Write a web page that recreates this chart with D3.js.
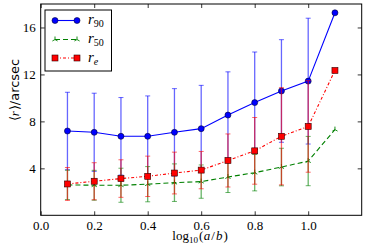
<!DOCTYPE html>
<html>
<head>
  <meta charset="utf-8" />
  <title>radius vs axis ratio</title>
  <script src="https://d3js.org/d3.v7.min.js"></script>
  <style>
    body { margin: 0; background: #fff; }
    .tick text { font-family: 'Liberation Serif', serif; font-size: 13px; fill: #000; }
    .tick line { stroke: #000; stroke-width: 0.8; }
  </style>
</head>
<body>
  <svg id="chart" width="366" height="248"></svg>
  <script>
    // data
    var xVals = [0.1, 0.2, 0.3, 0.4, 0.5, 0.6, 0.7, 0.8, 0.9, 1.0, 1.1];
    var r90 = [7.18, 7.07, 6.73, 6.73, 7.07, 7.38, 8.54, 9.6, 10.59, 11.43, 17.25];
    var r90Err = [3.3, 3.33, 3.3, 3.44, 3.72, 3.69, 3.68, 4.31, 4.37, 5.36, 0];
    var r50 = [2.59, 2.56, 2.56, 2.65, 2.78, 2.87, 3.26, 3.63, 4.11, 4.62, 7.3];
    var r50Err = [1.25, 1.27, 1.45, 1.5, 1.6, 1.42, 1.32, 1.55, 1.6, 2.1, 0];
    var rE = [2.67, 2.9, 3.13, 3.32, 3.6, 3.85, 4.67, 5.49, 6.73, 7.57, 12.34];
    var rEErr = [1.4, 1.58, 1.6, 1.72, 1.78, 1.59, 2.26, 2.84, 4.14, 3.9, 0];
    var xTicks = [0.0, 0.2, 0.4, 0.6, 0.8, 1.0];
    var yTicks = [4, 8, 12, 16];

    var plotLeft = 40.7, plotRight = 361.7, plotTop = 4, plotBottom = 215.3;
    var svg = d3.select("#chart");

    var x = d3.scaleLinear().domain([0, 1.2]).range([plotLeft, plotRight]);
    var y = d3.scaleLinear().domain([0, 18]).range([plotBottom, plotTop]);

    // axes, ticks pointing inwards on all four sides
    svg.append("g").attr("transform", "translate(0," + plotBottom + ")")
      .call(d3.axisBottom(x).tickValues(xTicks).tickSize(-4).tickPadding(5).tickFormat(d3.format(".1f")))
      .call(function(g) { g.select(".domain").remove(); });
    svg.append("g").attr("transform", "translate(0," + plotTop + ")")
      .call(d3.axisTop(x).tickValues(xTicks).tickSize(-4).tickFormat(""))
      .call(function(g) { g.select(".domain").remove(); });
    svg.append("g").attr("transform", "translate(" + plotLeft + ",0)")
      .call(d3.axisLeft(y).tickValues(yTicks).tickSize(-4).tickPadding(5))
      .call(function(g) { g.select(".domain").remove(); });
    svg.append("g").attr("transform", "translate(" + plotRight + ",0)")
      .call(d3.axisRight(y).tickValues(yTicks).tickSize(-4).tickFormat(""))
      .call(function(g) { g.select(".domain").remove(); });

    var series = [
      { vals: r90, err: r90Err, color: "#0000ff", dash: null, marker: "circle" },
      { vals: r50, err: r50Err, color: "#008000", dash: "5,3", marker: "tri" },
      { vals: rE, err: rEErr, color: "#ff0000", dash: "3,2,1,2", marker: "square" }
    ];

    function drawMarker(g, kind, cx, cy, color) {
      if (kind == "circle") {
        g.append("circle").attr("cx", cx).attr("cy", cy).attr("r", 3)
          .attr("fill", color).attr("stroke", "#000033").attr("stroke-width", 0.6);
      } else if (kind == "square") {
        g.append("rect").attr("x", cx - 3).attr("y", cy - 3).attr("width", 6).attr("height", 6)
          .attr("fill", color).attr("stroke", "#330000").attr("stroke-width", 0.6);
      } else {
        g.append("path")
          .attr("d", "M" + cx + "," + cy + "v-3M" + cx + "," + cy + "l-2.6,1.5M" + cx + "," + cy + "l2.6,1.5")
          .attr("stroke", color).attr("stroke-width", 0.9).attr("fill", "none");
      }
    }

    var line = d3.line().x(function(d) { return x(d[0]); }).y(function(d) { return y(d[1]); });

    series.forEach(function(s) {
      var g = svg.append("g");
      // error bars
      xVals.forEach(function(xv, i) {
        if (!s.err[i]) return;
        var lo = y(s.vals[i] - s.err[i]), hi = y(s.vals[i] + s.err[i]);
        g.append("line").attr("x1", x(xv)).attr("x2", x(xv)).attr("y1", lo).attr("y2", hi)
          .attr("stroke", s.color).attr("stroke-opacity", 0.6).attr("stroke-width", 1.3);
        [lo, hi].forEach(function(yy) {
          g.append("line").attr("x1", x(xv) - 2.5).attr("x2", x(xv) + 2.5).attr("y1", yy).attr("y2", yy)
            .attr("stroke", s.color).attr("stroke-opacity", 0.6).attr("stroke-width", 1);
        });
      });
      g.append("path").datum(xVals.map(function(xv, i) { return [xv, s.vals[i]]; }))
        .attr("d", line).attr("fill", "none").attr("stroke", s.color).attr("stroke-width", 1.1)
        .attr("stroke-dasharray", s.dash);
      xVals.forEach(function(xv, i) { drawMarker(g, s.marker, x(xv), y(s.vals[i]), s.color); });
    });

    // frame
    svg.append("rect").attr("x", plotLeft).attr("y", plotTop)
      .attr("width", plotRight - plotLeft).attr("height", plotBottom - plotTop)
      .attr("fill", "none").attr("stroke", "#000").attr("stroke-width", 1);

    // legend
    var leg = svg.append("g");
    leg.append("rect").attr("x", 45).attr("y", 10).attr("width", 66.5).attr("height", 61)
      .attr("fill", "#fff").attr("stroke", "#000").attr("stroke-width", 1);
    var subs = ["90", "50", "e"];
    var legY = [20.5, 39.5, 58];
    series.forEach(function(s, i) {
      var yy = legY[i];
      leg.append("line").attr("x1", 55).attr("x2", 77).attr("y1", yy).attr("y2", yy)
        .attr("stroke", s.color).attr("stroke-width", 1.1).attr("stroke-dasharray", s.dash);
      drawMarker(leg, s.marker, 55, yy, s.color);
      drawMarker(leg, s.marker, 77, yy, s.color);
      var t = leg.append("text").attr("x", 88).attr("y", yy + 3.5)
        .attr("font-family", "'Liberation Serif', serif").attr("font-size", 15);
      t.append("tspan").attr("font-style", "italic").text("r");
      t.append("tspan").attr("font-size", 10).attr("dy", 3)
        .attr("font-style", subs[i] == "e" ? "italic" : "normal").text(subs[i]);
    });

    // axis labels
    var xl = svg.append("text").attr("x", 200).attr("y", 240).attr("text-anchor", "middle")
      .attr("font-family", "'Liberation Serif', serif").attr("font-size", 13);
    xl.append("tspan").text("log");
    xl.append("tspan").attr("font-size", 9).attr("dy", 3).text("10");
    xl.append("tspan").attr("dx", 1).attr("dy", -3).text("(");
    xl.append("tspan").attr("dx", 0.5).attr("font-style", "italic").text("a");
    xl.append("tspan").attr("dx", 1).text("/");
    xl.append("tspan").attr("dx", 1).attr("font-style", "italic").text("b");
    xl.append("tspan").attr("dx", 1).text(")");

    var yl = svg.append("text").attr("transform", "translate(19,90) rotate(-90)")
      .attr("text-anchor", "middle").attr("font-size", 13);
    yl.append("tspan").attr("font-family", "'Liberation Serif', serif").text("⟨");
    yl.append("tspan").attr("font-family", "'Liberation Serif', serif").attr("font-style", "italic").text("r");
    yl.append("tspan").attr("dx", 1).attr("font-family", "'Liberation Serif', serif").text("⟩");
    yl.append("tspan").attr("font-family", "'DejaVu Sans', sans-serif").text("/arcsec");
  </script>
</body>
</html>
